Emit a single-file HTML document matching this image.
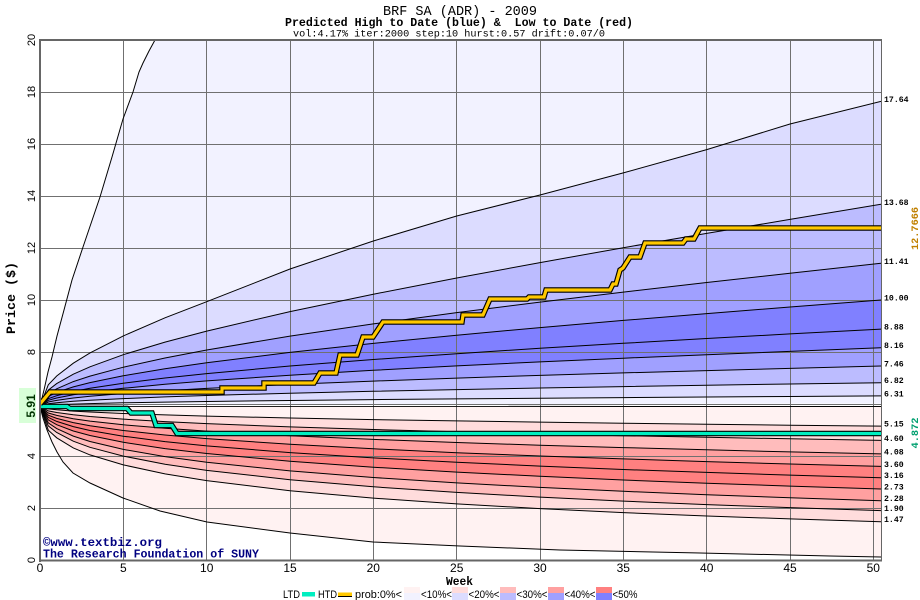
<!DOCTYPE html>
<html><head><meta charset="utf-8"><style>
html,body{margin:0;padding:0;background:#fff;}
svg{display:block;}
.m{font-family:"Liberation Mono",monospace;}
.s{font-family:"Liberation Sans",sans-serif;}
</style></head><body>
<svg width="920" height="600" viewBox="0 0 920 600" xmlns="http://www.w3.org/2000/svg">
<rect x="0" y="0" width="920" height="600" fill="#fff"/>
<defs><clipPath id="pc"><rect x="40" y="40" width="841" height="520"/></clipPath></defs>
<g clip-path="url(#pc)">
<!-- blue fills -->
<polygon fill="#f2f2ff" points="40,406.3 44,390 48,372 52,357 57,336 64,310 72,280 83,247 100,197 112,157 123,119 133,92 139,72 143,63 149,51 155,40 881,40 881,406.3"/>
<polygon fill="#dcdcff" points="40,406.3 48.3,384.8 56.7,376 73.3,363.2 90,352.9 123.3,335.9 165,317.8 206.7,301.7 290,269 373.3,241 456.7,216 540,195 623.3,172.9 706.7,149.6 790,124 881,101.4 881,406.3"/>
<polygon fill="#bcbcff" points="40,406.3 48.3,390.1 56.7,383.6 73.3,374.2 90,366.8 123.3,354.7 165,342.1 206.7,331.1 290,311.6 373.3,294.2 456.7,278 540,262.6 623.3,247.7 706.7,233.4 790,219.4 881,204.3 881,406.3"/>
<polygon fill="#a0a0ff" points="40,406.3 48.3,393.7 56.7,388.8 73.3,381.6 90,376.1 123.3,367.2 165,358 206.7,350 290,336.1 373.3,323.9 456.7,312.6 540,302.1 623.3,292.1 706.7,282.5 790,273.2 881,263.3 881,406.3"/>
<polygon fill="#8080ff" points="40,406.3 48.3,396.4 56.7,392.4 73.3,386.9 90,382.6 123.3,375.8 165,368.8 206.7,362.8 290,352.4 373.3,343.4 456.7,335.2 540,327.6 623.3,320.4 706.7,313.6 790,307 881,300 881,406.3"/>
<polygon fill="#a0a0ff" points="40,406.3 48.3,400.3 56.7,398 73.3,394.7 90,392.2 123.3,388.3 165,384.3 206.7,380.9 290,375.2 373.3,370.3 456.7,365.9 540,361.9 623.3,358.2 706.7,354.7 790,351.4 881,347.8 881,406.3"/>
<polygon fill="#bcbcff" points="40,406.3 48.3,402 56.7,400.4 73.3,398 90,396.2 123.3,393.5 165,390.7 206.7,388.4 290,384.4 373.3,381.1 456.7,378.1 540,375.4 623.3,372.9 706.7,370.6 790,368.4 881,366 881,406.3"/>
<polygon fill="#dcdcff" points="40,406.3 48.3,403.7 56.7,402.7 73.3,401.3 90,400.2 123.3,398.6 165,396.9 206.7,395.5 290,393.2 373.3,391.3 456.7,389.6 540,388 623.3,386.6 706.7,385.2 790,384 881,382.7 881,406.3"/>
<polygon fill="#f2f2ff" points="40,406.3 48.3,405.1 56.7,404.7 73.3,404.1 90,403.6 123.3,402.8 165,402.1 206.7,401.5 290,400.5 373.3,399.6 456.7,398.9 540,398.2 623.3,397.6 706.7,397 790,396.5 881,395.9 881,406.3"/>
<polygon fill="#ffffff" points="40,406.3 123.3,405.3 290,404.7 456.7,404.3 623.3,403.9 881,403.5 881,406.3"/>
<!-- red fills -->
<polygon fill="#fff2f2" points="40,406.3 43,418 47,430 52,442 57,452 63,462 73,473 90,483 123,498 160,511 207,522 290,533 373,542 460,546 560,550 700,553 830,556 881,557 881,406.3"/>
<polygon fill="#ffdcdc" points="40,406.3 48.3,430.2 56.7,437.8 73.3,447.9 90,454.9 123.3,464.9 165,473.9 206.7,480.6 290,490.7 373.3,498.1 456.7,503.9 540,508.6 623.3,512.6 706.7,516 790,518.9 881,521.8 881,406.3"/>
<polygon fill="#ffbcbc" points="40,406.3 48.3,425.9 56.7,432.5 73.3,441.2 90,447.3 123.3,456.1 165,464.2 206.7,470.4 290,479.7 373.3,486.8 456.7,492.4 540,497.1 623.3,501.1 706.7,504.6 790,507.6 881,510.6 881,406.3"/>
<polygon fill="#ffa0a0" points="40,406.3 48.3,422.9 56.7,428.6 73.3,436.1 90,441.5 123.3,449.4 165,456.6 206.7,462.2 290,470.9 373.3,477.5 456.7,482.9 540,487.4 623.3,491.3 706.7,494.7 790,497.7 881,500.7 881,406.3"/>
<polygon fill="#ff8080" points="40,406.3 48.3,419.9 56.7,424.7 73.3,431 90,435.5 123.3,442.3 165,448.6 206.7,453.5 290,461.2 373.3,467.2 456.7,472.1 540,476.3 623.3,480 706.7,483.2 790,486.1 881,489 881,406.3"/>
<polygon fill="#ffa0a0" points="40,406.3 48.3,415.2 56.7,418.4 73.3,422.6 90,425.8 123.3,430.5 165,435 206.7,438.6 290,444.3 373.3,448.8 456.7,452.7 540,456 623.3,458.9 706.7,461.6 790,464 881,466.4 881,406.3"/>
<polygon fill="#ffbcbc" points="40,406.3 48.3,413 56.7,415.4 73.3,418.7 90,421.1 123.3,424.8 165,428.3 206.7,431.1 290,435.7 373.3,439.4 456.7,442.5 540,445.2 623.3,447.6 706.7,449.8 790,451.9 881,453.9 881,406.3"/>
<polygon fill="#ffdcdc" points="40,406.3 48.3,410.9 56.7,412.5 73.3,414.8 90,416.5 123.3,419.1 165,421.6 206.7,423.6 290,426.9 373.3,429.5 456.7,431.8 540,433.9 623.3,435.7 706.7,437.3 790,438.8 881,440.4 881,406.3"/>
<polygon fill="#fff2f2" points="40,406.3 48.3,408.9 56.7,409.8 73.3,411.1 90,412 123.3,413.5 165,414.9 206.7,416.1 290,418 373.3,419.6 456.7,420.9 540,422.1 623.3,423.2 706.7,424.2 790,425.2 881,426.1 881,406.3"/>

<!-- grid -->
<g stroke="#707070" stroke-width="1">
<line x1="123.5" y1="40" x2="123.5" y2="560"/><line x1="206.5" y1="40" x2="206.5" y2="560"/>
<line x1="290.5" y1="40" x2="290.5" y2="560"/><line x1="373.5" y1="40" x2="373.5" y2="560"/>
<line x1="456.5" y1="40" x2="456.5" y2="560"/><line x1="540.5" y1="40" x2="540.5" y2="560"/>
<line x1="623.5" y1="40" x2="623.5" y2="560"/><line x1="706.5" y1="40" x2="706.5" y2="560"/>
<line x1="790.5" y1="40" x2="790.5" y2="560"/><line x1="873.5" y1="40" x2="873.5" y2="560"/>
<line x1="40" y1="508.5" x2="881" y2="508.5"/><line x1="40" y1="456.5" x2="881" y2="456.5"/>
<line x1="40" y1="404.5" x2="881" y2="404.5"/><line x1="40" y1="352.5" x2="881" y2="352.5"/>
<line x1="40" y1="300.5" x2="881" y2="300.5"/><line x1="40" y1="248.5" x2="881" y2="248.5"/>
<line x1="40" y1="196.5" x2="881" y2="196.5"/><line x1="40" y1="144.5" x2="881" y2="144.5"/>
<line x1="40" y1="92.5" x2="881" y2="92.5"/>
</g>

<!-- quantile lines -->
<g fill="none" stroke="#000" stroke-width="1">
<polyline points="40,406.3 44,390 48,372 52,357 57,336 64,310 72,280 83,247 100,197 112,157 123,119 133,92 139,72 143,63 149,51 155,40"/>
<polyline points="40,406.3 48.3,384.8 56.7,376 73.3,363.2 90,352.9 123.3,335.9 165,317.8 206.7,301.7 290,269 373.3,241 456.7,216 540,195 623.3,172.9 706.7,149.6 790,124 881,101.4"/>
<polyline points="40,406.3 48.3,390.1 56.7,383.6 73.3,374.2 90,366.8 123.3,354.7 165,342.1 206.7,331.1 290,311.6 373.3,294.2 456.7,278 540,262.6 623.3,247.7 706.7,233.4 790,219.4 881,204.3"/>
<polyline points="40,406.3 48.3,393.7 56.7,388.8 73.3,381.6 90,376.1 123.3,367.2 165,358 206.7,350 290,336.1 373.3,323.9 456.7,312.6 540,302.1 623.3,292.1 706.7,282.5 790,273.2 881,263.3"/>
<polyline points="40,406.3 48.3,396.4 56.7,392.4 73.3,386.9 90,382.6 123.3,375.8 165,368.8 206.7,362.8 290,352.4 373.3,343.4 456.7,335.2 540,327.6 623.3,320.4 706.7,313.6 790,307 881,300"/>
<polyline points="40,406.3 48.3,398.7 56.7,395.7 73.3,391.5 90,388.3 123.3,383.2 165,378 206.7,373.6 290,366 373.3,359.5 456.7,353.7 540,348.3 623.3,343.3 706.7,338.5 790,333.9 881,329.1"/>
<polyline points="40,406.3 48.3,400.3 56.7,398 73.3,394.7 90,392.2 123.3,388.3 165,384.3 206.7,380.9 290,375.2 373.3,370.3 456.7,365.9 540,361.9 623.3,358.2 706.7,354.7 790,351.4 881,347.8"/>
<polyline points="40,406.3 48.3,402 56.7,400.4 73.3,398 90,396.2 123.3,393.5 165,390.7 206.7,388.4 290,384.4 373.3,381.1 456.7,378.1 540,375.4 623.3,372.9 706.7,370.6 790,368.4 881,366"/>
<polyline points="40,406.3 48.3,403.7 56.7,402.7 73.3,401.3 90,400.2 123.3,398.6 165,396.9 206.7,395.5 290,393.2 373.3,391.3 456.7,389.6 540,388 623.3,386.6 706.7,385.2 790,384 881,382.7"/>
<polyline points="40,406.3 48.3,405.1 56.7,404.7 73.3,404.1 90,403.6 123.3,402.8 165,402.1 206.7,401.5 290,400.5 373.3,399.6 456.7,398.9 540,398.2 623.3,397.6 706.7,397 790,396.5 881,395.9"/>
<polyline points="40,406.3 881,406.5"/>
<polyline points="40,406.3 48.3,408.9 56.7,409.8 73.3,411.1 90,412 123.3,413.5 165,414.9 206.7,416.1 290,418 373.3,419.6 456.7,420.9 540,422.1 623.3,423.2 706.7,424.2 790,425.2 881,426.1"/>
<polyline points="40,406.3 48.3,410.9 56.7,412.5 73.3,414.8 90,416.5 123.3,419.1 165,421.6 206.7,423.6 290,426.9 373.3,429.5 456.7,431.8 540,433.9 623.3,435.7 706.7,437.3 790,438.8 881,440.4"/>
<polyline points="40,406.3 48.3,413 56.7,415.4 73.3,418.7 90,421.1 123.3,424.8 165,428.3 206.7,431.1 290,435.7 373.3,439.4 456.7,442.5 540,445.2 623.3,447.6 706.7,449.8 790,451.9 881,453.9"/>
<polyline points="40,406.3 48.3,415.2 56.7,418.4 73.3,422.6 90,425.8 123.3,430.5 165,435 206.7,438.6 290,444.3 373.3,448.8 456.7,452.7 540,456 623.3,458.9 706.7,461.6 790,464 881,466.4"/>
<polyline points="40,406.3 48.3,417.4 56.7,421.4 73.3,426.6 90,430.5 123.3,436.2 165,441.6 206.7,445.9 290,452.6 373.3,457.9 456.7,462.3 540,466.1 623.3,469.5 706.7,472.4 790,475.1 881,477.8"/>
<polyline points="40,406.3 48.3,419.9 56.7,424.7 73.3,431 90,435.5 123.3,442.3 165,448.6 206.7,453.5 290,461.2 373.3,467.2 456.7,472.1 540,476.3 623.3,480 706.7,483.2 790,486.1 881,489"/>
<polyline points="40,406.3 48.3,422.9 56.7,428.6 73.3,436.1 90,441.5 123.3,449.4 165,456.6 206.7,462.2 290,470.9 373.3,477.5 456.7,482.9 540,487.4 623.3,491.3 706.7,494.7 790,497.7 881,500.7"/>
<polyline points="40,406.3 48.3,425.9 56.7,432.5 73.3,441.2 90,447.3 123.3,456.1 165,464.2 206.7,470.4 290,479.7 373.3,486.8 456.7,492.4 540,497.1 623.3,501.1 706.7,504.6 790,507.6 881,510.6"/>
<polyline points="40,406.3 48.3,430.2 56.7,437.8 73.3,447.9 90,454.9 123.3,464.9 165,473.9 206.7,480.6 290,490.7 373.3,498.1 456.7,503.9 540,508.6 623.3,512.6 706.7,516 790,518.9 881,521.8"/>
<polyline points="40,406.3 43,418 47,430 52,442 57,452 63,462 73,473 90,483 123,498 160,511 207,522 290,533 373,542 460,546 560,550 700,553 830,556 881,557"/>
</g>

<!-- LTD -->
<polyline fill="none" stroke="#000" stroke-width="5.5" stroke-linejoin="miter" points="40,406.5 67,406.5 70,408.5 127,408.5 131,413 152,413 156,425.5 172,425.5 177,433.5 881,433.5"/>
<polyline fill="none" stroke="#00eec0" stroke-width="3.2" stroke-linejoin="miter" points="40,406.5 67,406.5 70,408.5 127,408.5 131,413 152,413 156,425.5 172,425.5 177,433.5 881,433.5"/>
<!-- HTD -->
<polyline fill="none" stroke="#000" stroke-width="5.5" stroke-linejoin="miter" points="40,404 50,392 222,392 222,388 264,388 264,383 314,383 320,373 336,373 340,355 357,355 363,337 373,337 383,322 462,322 463,315 483,315 490,299 527,299 529,297 544,297 546,290 610,290 613,284 616,284 620,270 623,268 630,257 640,257 645,243 683,243 686,239 694,239 700,228 881,228"/>
<polyline fill="none" stroke="#ffc800" stroke-width="3.2" stroke-linejoin="miter" points="40,404 50,392 222,392 222,388 264,388 264,383 314,383 320,373 336,373 340,355 357,355 363,337 373,337 383,322 462,322 463,315 483,315 490,299 527,299 529,297 544,297 546,290 610,290 613,284 616,284 620,270 623,268 630,257 640,257 645,243 683,243 686,239 694,239 700,228 881,228"/>

<!-- watermark -->
<text class="m" x="43" y="546" font-size="11.5" font-weight="bold" fill="#000080" textLength="119" lengthAdjust="spacingAndGlyphs">©www.textbiz.org</text>
<text class="m" x="43" y="557.5" font-size="11.5" font-weight="bold" fill="#000080" textLength="216" lengthAdjust="spacingAndGlyphs">The Research Foundation of SUNY</text>
</g>

<!-- border -->
<g stroke="#666" fill="none">
<line x1="40" y1="39" x2="40" y2="562" stroke-width="2"/>
<line x1="39" y1="40" x2="882" y2="40" stroke-width="2"/>
<line x1="39" y1="560.5" x2="882" y2="560.5" stroke-width="2"/>
<line x1="881.5" y1="39" x2="881.5" y2="561" stroke-width="1"/>
</g>

<!-- titles -->
<text class="m" x="383" y="15" font-size="13.5" fill="#000" textLength="154" lengthAdjust="spacingAndGlyphs">BRF SA (ADR) - 2009</text>
<text class="m" x="285" y="26" font-size="11.6" font-weight="bold" fill="#000" textLength="348" lengthAdjust="spacingAndGlyphs">Predicted High to Date (blue) &amp;&#160; Low to Date (red)</text>
<text class="m" x="293" y="36.5" font-size="10" fill="#000" textLength="312" lengthAdjust="spacingAndGlyphs">vol:4.17% iter:2000 step:10 hurst:0.57 drift:0.07/0</text>

<!-- y axis labels -->
<g class="s" font-size="11" fill="#000" text-anchor="middle">
<text transform="translate(35,560) rotate(-90)">0</text>
<text transform="translate(35,508) rotate(-90)">2</text>
<text transform="translate(35,456) rotate(-90)">4</text>
<text transform="translate(35,352) rotate(-90)">8</text>
<text transform="translate(35,300) rotate(-90)">10</text>
<text transform="translate(35,248) rotate(-90)">12</text>
<text transform="translate(35,196) rotate(-90)">14</text>
<text transform="translate(35,144) rotate(-90)">16</text>
<text transform="translate(35,92) rotate(-90)">18</text>
<text transform="translate(35,40) rotate(-90)">20</text>
</g>
<rect x="19" y="388" width="17" height="35" fill="#d8ffd8"/>
<text class="s" transform="translate(35,406) rotate(-90)" text-anchor="middle" font-size="12" font-weight="bold" fill="#003300">5.91</text>
<text class="m" transform="translate(15,298) rotate(-90)" text-anchor="middle" font-size="12.5" font-weight="bold" fill="#000" textLength="72" lengthAdjust="spacingAndGlyphs">Price ($)</text>

<!-- x axis labels -->
<g class="s" font-size="12" fill="#000" text-anchor="middle">
<text x="40" y="572">0</text><text x="123.3" y="572">5</text><text x="206.7" y="572">10</text>
<text x="290" y="572">15</text><text x="373.3" y="572">20</text><text x="456.7" y="572">25</text>
<text x="540" y="572">30</text><text x="623.3" y="572">35</text><text x="706.7" y="572">40</text>
<text x="790" y="572">45</text><text x="873.3" y="572">50</text>
</g>
<text class="m" x="446" y="585" font-size="11.5" font-weight="bold" fill="#000" textLength="27" lengthAdjust="spacingAndGlyphs">Week</text>

<!-- right labels -->
<g class="m" font-size="8.2" font-weight="bold" fill="#000">
<text x="884" y="102">17.64</text>
<text x="884" y="205">13.68</text>
<text x="884" y="264">11.41</text>
<text x="884" y="300.5">10.00</text>
<text x="884" y="329.5">8.88</text>
<text x="884" y="348">8.16</text>
<text x="884" y="366.5">7.46</text>
<text x="884" y="383">6.82</text>
<text x="884" y="396.5">6.31</text>
<text x="884" y="426.5">5.15</text>
<text x="884" y="441">4.60</text>
<text x="884" y="454.5">4.08</text>
<text x="884" y="467">3.60</text>
<text x="884" y="478">3.16</text>
<text x="884" y="489.5">2.73</text>
<text x="884" y="501">2.28</text>
<text x="884" y="511">1.90</text>
<text x="884" y="522">1.47</text>
</g>
<text class="m" transform="translate(918,228.5) rotate(-90)" text-anchor="middle" font-size="10.5" font-weight="bold" fill="#c08000" textLength="43" lengthAdjust="spacingAndGlyphs">12.7666</text>
<text class="m" transform="translate(918,433) rotate(-90)" text-anchor="middle" font-size="10.5" font-weight="bold" fill="#00a070" textLength="31" lengthAdjust="spacingAndGlyphs">4.872</text>

<!-- legend -->
<g class="s" font-size="11" fill="#000">
<text x="283" y="598" textLength="17" lengthAdjust="spacingAndGlyphs">LTD</text>
<rect x="302" y="592" width="13" height="4.5" fill="#00eec0"/>
<text x="318" y="598" textLength="19" lengthAdjust="spacingAndGlyphs">HTD</text>
<rect x="338" y="592.5" width="14" height="3.5" fill="#ffc800"/>
<rect x="338" y="596" width="14" height="1" fill="#000"/>
<text x="355" y="598" textLength="47" lengthAdjust="spacingAndGlyphs">prob:0%&lt;</text>
<rect x="404" y="587" width="16" height="6" fill="#fff2f2"/><rect x="404" y="593" width="16" height="7" fill="#f2f2ff"/>
<text x="421" y="598" textLength="31" lengthAdjust="spacingAndGlyphs">&lt;10%&lt;</text>
<rect x="452" y="587" width="16" height="6" fill="#ffdcdc"/><rect x="452" y="593" width="16" height="7" fill="#dcdcff"/>
<text x="468.5" y="598" textLength="31" lengthAdjust="spacingAndGlyphs">&lt;20%&lt;</text>
<rect x="500" y="587" width="16" height="6" fill="#ffbcbc"/><rect x="500" y="593" width="16" height="7" fill="#bcbcff"/>
<text x="516.5" y="598" textLength="31" lengthAdjust="spacingAndGlyphs">&lt;30%&lt;</text>
<rect x="548" y="587" width="16" height="6" fill="#ffa0a0"/><rect x="548" y="593" width="16" height="7" fill="#a0a0ff"/>
<text x="564.5" y="598" textLength="31" lengthAdjust="spacingAndGlyphs">&lt;40%&lt;</text>
<rect x="596" y="587" width="16" height="6" fill="#ff8080"/><rect x="596" y="593" width="16" height="7" fill="#8080ff"/>
<text x="612.5" y="598" textLength="25" lengthAdjust="spacingAndGlyphs">&lt;50%</text>
</g>
</svg>
</body></html>
